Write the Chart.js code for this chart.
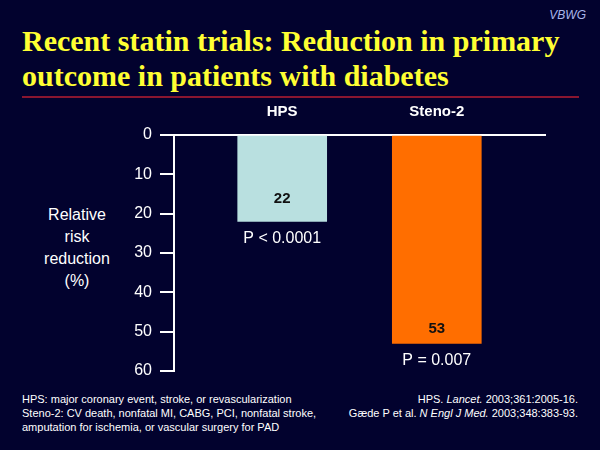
<!DOCTYPE html>
<html>
<head>
<meta charset="utf-8">
<script src="https://cdn.jsdelivr.net/npm/chart.js@4"></script>
<style>
  html, body { margin: 0; padding: 0; }
  body { width: 600px; height: 450px; background: #02022e; position: relative; overflow: hidden; font-family: "Liberation Sans", Arial, sans-serif; color: #fff; }
  .vbwg { position: absolute; right: 14px; top: 8px; font-size: 12px; font-style: italic; color: #a9b6ea; }
  .title { position: absolute; left: 22px; top: 23px; font-family: "Liberation Serif", "Times New Roman", serif; font-weight: bold; font-size: 30px; line-height: 35px; color: #ffff33; white-space: nowrap; }
  .rule { position: absolute; left: 22px; top: 96px; width: 557px; height: 2px; background: #8a1630; }
  .ytitle { position: absolute; left: 27px; top: 204px; width: 100px; text-align: center; font-size: 16px; line-height: 22px; }
  .wrap { position: absolute; left: 0; top: 100px; width: 600px; height: 290px; }
  .foot { position: absolute; top: 392px; font-size: 11px; line-height: 14px; color: #fff; }
  .foot.left { left: 22px; }
  .foot.right { right: 22px; text-align: right; }
</style>
</head>
<body>
<div class="vbwg">VBWG</div>
<div class="title">Recent statin trials: Reduction in primary<br>outcome in patients with diabetes</div>
<div class="rule"></div>
<div class="ytitle">Relative<br>risk<br>reduction<br>(%)</div>
<div class="wrap"><canvas id="c"></canvas></div>
<div class="foot left">HPS: major coronary event, stroke, or revascularization<br>Steno-2: CV death, nonfatal MI, CABG, PCI, nonfatal stroke,<br>amputation for ischemia, or vascular surgery for PAD</div>
<div class="foot right">HPS. <i>Lancet.</i> 2003;361:2005-16.<br>Gæde P et al. <i>N Engl J Med.</i> 2003;348:383-93.</div>
<script>
const trials = ['HPS', 'Steno-2'];
const rrr = [22, 53];
const pValues = ['P < 0.0001', 'P = 0.007'];
const barColors = ['#b9e0e0', '#ff6e00'];
const yTicks = [0, 10, 20, 30, 40, 50, 60];

// numbers inside the bars and p-values below them
const barText = {
  id: 'barText',
  afterDatasetsDraw(chart) {
    const ctx = chart.ctx;
    const meta = chart.getDatasetMeta(0);
    const inset = [23, 15];
    ctx.save();
    ctx.textAlign = 'center';
    ctx.textBaseline = 'middle';
    meta.data.forEach((bar, i) => {
      ctx.fillStyle = '#111';
      ctx.font = 'bold 15px "Liberation Sans", Arial';
      ctx.fillText(String(rrr[i]), bar.x, bar.y - inset[i]);
      ctx.fillStyle = '#fff';
      ctx.font = '16px "Liberation Sans", Arial';
      ctx.fillText(pValues[i], bar.x, bar.y + 17);
    });
    ctx.restore();
  }
};

new Chart(document.getElementById('c'), {
  type: 'bar',
  data: {
    datasets: [{
      data: trials.map((t, i) => ({ x: i + 1, y: rrr[i] })),
      backgroundColor: barColors,
      borderWidth: 0,
      barThickness: 89
    }]
  },
  options: {
    responsive: true,
    maintainAspectRatio: false,
    animation: false,
    layout: { padding: { left: 114, right: 55, top: 0, bottom: 19 } },
    plugins: { legend: { display: false }, tooltip: { enabled: false } },
    scales: {
      x: {
        type: 'linear',
        position: 'top',
        offset: false,
        bounds: 'data',
        min: 0.3,
        max: 2.7,
        afterDataLimits: (s) => { s.min = 0.3; s.max = 2.7; },
        afterBuildTicks: (s) => { s.ticks = trials.map((t, i) => ({ value: i + 1 })); },
        afterFit: (s) => { s.height = 35; },
        ticks: {
          color: '#fff',
          padding: 6,
          maxRotation: 0,
          font: { family: '"Liberation Sans", Arial', size: 15, weight: 'bold' },
          callback: (v) => trials[v - 1] || ''
        },
        grid: { display: false },
        border: { display: true, color: '#fff', width: 2 }
      },
      y: {
        reverse: true,
        min: 0,
        max: 60,
        afterFit: (s) => { s.width = 60; },
        afterBuildTicks: (s) => { s.ticks = yTicks.map(v => ({ value: v })); },
        ticks: {
          color: '#fff',
          padding: 8,
          font: { family: '"Liberation Sans", Arial', size: 16 }
        },
        grid: { drawOnChartArea: false, drawTicks: true, tickLength: 14, color: '#fff', lineWidth: 2 },
        border: { display: true, color: '#fff', width: 2 }
      }
    }
  },
  plugins: [barText]
});
</script>
</body>
</html>
